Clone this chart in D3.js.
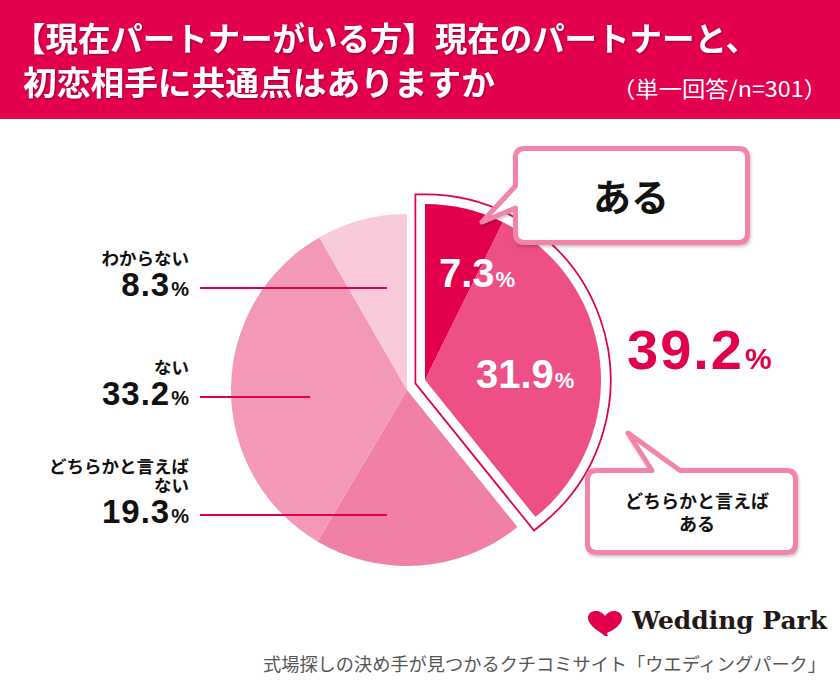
<!DOCTYPE html>
<html><head><meta charset="utf-8">
<script src="https://cdn.jsdelivr.net/npm/d3@7"></script>
<style>body{margin:0;background:#fff}svg{display:block}</style>
</head><body><div id="chart"></div>
<script>
// ---- data ----
const categories = ["ある", "どちらかと言えばある", "どちらかと言えばない", "ない", "わからない"];
const values = [7.3, 31.9, 19.3, 33.2, 8.3];
const sliceColors = ["#E2004C", "#EE4F86", "#F080A6", "#F399B7", "#F9CADB"];
const titleLines = ["【現在パートナーがいる方】現在のパートナーと、", "初恋相手に共通点はありますか"];
const subtitle = "（単一回答/n=301）";
const leftLabelIdx = [4, 3, 2];
const leftLabelNames = [["わからない"], ["ない"], ["どちらかと言えば", "ない"]];
const calloutTop = "ある";
const calloutBottom = ["どちらかと言えば", "ある"];
const footerText = "式場探しの決め手が見つかるクチコミサイト「ウエディングパーク」";
const brandText = "Wedding Park";

// ---- layout ----
const W = 840, H = 680;
const cx = 407, cy = 390, R = 176;
const explode = {dx: 18, dy: -10};
const crimson = "#E2004C";
const calloutColor = "#F283A9";
const numFont = "'Liberation Sans', Arial, sans-serif";
const jpFont = "'Noto Sans CJK JP', sans-serif";

const svg = d3.select("#chart").append("svg").attr("width", W).attr("height", H);
const defs = svg.append("defs");
const sh = defs.append("filter").attr("id", "shadow").attr("x", "-10%").attr("y", "-10%").attr("width", "130%").attr("height", "140%");
sh.append("feDropShadow").attr("dx", 1).attr("dy", 2).attr("stdDeviation", 1.5).attr("flood-color", "#000").attr("flood-opacity", 0.22);
const tsh = defs.append("filter").attr("id", "tshadow");
tsh.append("feDropShadow").attr("dx", 1).attr("dy", 1).attr("stdDeviation", 0.8).attr("flood-color", "#000").attr("flood-opacity", 0.35);

svg.append("rect").attr("width", W).attr("height", H).attr("fill", "#fff");

// ---- header ----
svg.append("rect").attr("x", 0).attr("y", 0).attr("width", W).attr("height", 119).attr("fill", "#E3004F");
const titleX = [13, 23], titleBase = [51, 95], titleLen = [745, 472];
svg.selectAll(".title").data(titleLines).join("text")
  .attr("class", "title")
  .attr("x", (d, i) => titleX[i]).attr("y", (d, i) => titleBase[i])
  .attr("textLength", (d, i) => titleLen[i]).attr("lengthAdjust", "spacingAndGlyphs")
  .attr("font-family", jpFont).attr("font-weight", 700).attr("font-size", 33)
  .attr("fill", "#fff").attr("filter", "url(#tshadow)")
  .text(d => d);
svg.append("text").attr("x", 612).attr("y", 97)
  .attr("textLength", 215).attr("lengthAdjust", "spacingAndGlyphs")
  .attr("font-family", jpFont).attr("font-size", 22).attr("fill", "#fff")
  .text(subtitle);

// ---- pie ----
const pieData = d3.pie().sort(null).value(d => d)(values);
const arc = d3.arc().innerRadius(0).outerRadius(R);

const mainG = svg.append("g").attr("transform", `translate(${cx},${cy})`);
mainG.selectAll("path").data(pieData.slice(2)).join("path")
  .attr("d", arc).attr("fill", (d, i) => sliceColors[i + 2]);

const exG = svg.append("g").attr("transform", `translate(${cx + explode.dx},${cy + explode.dy})`);
const unionArc = arc({startAngle: pieData[0].startAngle, endAngle: pieData[1].endAngle});
exG.append("path").attr("d", unionArc).attr("fill", "#fff")
  .attr("stroke", crimson).attr("stroke-width", 21).attr("stroke-linejoin", "miter");
exG.append("path").attr("d", unionArc).attr("fill", "#fff")
  .attr("stroke", "#fff").attr("stroke-width", 17.5).attr("stroke-linejoin", "miter");
exG.selectAll(".ex").data(pieData.slice(0, 2)).join("path")
  .attr("class", "ex").attr("d", arc).attr("fill", (d, i) => sliceColors[i]);

// labels
function pctLabel(g, x, y, val, size, pSize, color, anchor, ls) {
  const t = g.append("text").attr("x", x).attr("y", y)
    .attr("font-family", numFont).attr("font-weight", 700)
    .attr("fill", color).attr("text-anchor", anchor || "start");
  t.append("tspan").attr("font-size", size).attr("letter-spacing", ls || 0).text(val.toFixed(1));
  t.append("tspan").attr("font-size", pSize).attr("dx", 1).text("%");
  return t;
}
pctLabel(svg, 439, 287, values[0], 40, 22, "#fff");
pctLabel(svg, 476, 388, values[1], 40, 22, "#fff");
pctLabel(svg, 627, 369, values[0] + values[1], 56, 30, crimson, "start", 2);

// left labels with leader lines
const rowNum = [296, 405, 523];
const lineY = [288, 397, 515];
const lineEnd = [387, 310, 387];
leftLabelIdx.forEach((idx, k) => {
  const names = leftLabelNames[k];
  const t = svg.append("text").attr("text-anchor", "end").attr("font-family", jpFont)
    .attr("font-weight", 700).attr("font-size", 17.5).attr("fill", "#111");
  names.forEach((n, j) => {
    t.append("tspan").attr("x", 189)
      .attr("y", rowNum[k] - 31 - (names.length - 1 - j) * 19).text(n);
  });
  pctLabel(svg, 189, rowNum[k], values[idx], 33, 20, "#111", "end", 1);
  svg.append("line").attr("x1", 200).attr("x2", lineEnd[k]).attr("y1", lineY[k]).attr("y2", lineY[k])
    .attr("stroke", crimson).attr("stroke-width", 2);
});

// ---- callouts ----
function boxPath(L, T, Rr, B, r, tail) {
  const p = d3.path();
  p.moveTo(L + r, T);
  if (tail.side === "top") { p.lineTo(tail.a, T); p.lineTo(tail.tip[0], tail.tip[1]); p.lineTo(tail.b, T); }
  p.lineTo(Rr - r, T); p.quadraticCurveTo(Rr, T, Rr, T + r);
  p.lineTo(Rr, B - r); p.quadraticCurveTo(Rr, B, Rr - r, B);
  p.lineTo(L + r, B); p.quadraticCurveTo(L, B, L, B - r);
  if (tail.side === "left") { p.lineTo(L, tail.b); p.lineTo(tail.tip[0], tail.tip[1]); p.lineTo(L, tail.a); }
  p.lineTo(L, T + r); p.quadraticCurveTo(L, T, L + r, T);
  p.closePath();
  return p.toString();
}
svg.append("path")
  .attr("d", boxPath(515.5, 148.5, 747.5, 242.5, 9, {side: "left", a: 186, tip: [482, 222], b: 208}))
  .attr("fill", "#fff").attr("stroke", calloutColor).attr("stroke-width", 5)
  .attr("stroke-linejoin", "round").attr("filter", "url(#shadow)");
svg.append("text").attr("x", 631).attr("y", 211).attr("text-anchor", "middle")
  .attr("font-family", jpFont).attr("font-weight", 700).attr("font-size", 38).attr("fill", "#111")
  .text(calloutTop);

svg.append("path")
  .attr("d", boxPath(587.5, 470.5, 795.5, 552.5, 9, {side: "top", a: 652, tip: [628, 433], b: 680}))
  .attr("fill", "#fff").attr("stroke", calloutColor).attr("stroke-width", 5)
  .attr("stroke-linejoin", "round").attr("filter", "url(#shadow)");
const cb = svg.append("text").attr("text-anchor", "middle")
  .attr("font-family", jpFont).attr("font-weight", 700).attr("font-size", 18).attr("fill", "#111");
calloutBottom.forEach((t, i) => {
  cb.append("tspan").attr("x", 697).attr("y", 508 + i * 23).text(t);
});

// ---- footer / logo ----
const heart = "M17,25 C14,22 0,15 0,7 C0,2.5 3.5,0 8,0 C12,0 15,2 17,5 C19,2 22,0 26,0 C30.5,0 34,2.5 34,7 C34,14 24,20 19,22 C19,23.5 19.5,24.5 20.5,25 Z";
svg.append("path").attr("d", heart).attr("transform", "translate(588,611)").attr("fill", crimson);
svg.append("text").attr("x", 632).attr("y", 629)
  .attr("textLength", 195).attr("lengthAdjust", "spacingAndGlyphs")
  .attr("font-family", "'DejaVu Serif', serif").attr("font-weight", 700).attr("font-size", 24)
  .attr("fill", "#231815").text(brandText);
svg.append("text").attr("x", 263).attr("y", 671)
  .attr("textLength", 563).attr("lengthAdjust", "spacingAndGlyphs")
  .attr("font-family", jpFont).attr("font-size", 18).attr("fill", "#555")
  .text(footerText);
</script>
</body></html>
